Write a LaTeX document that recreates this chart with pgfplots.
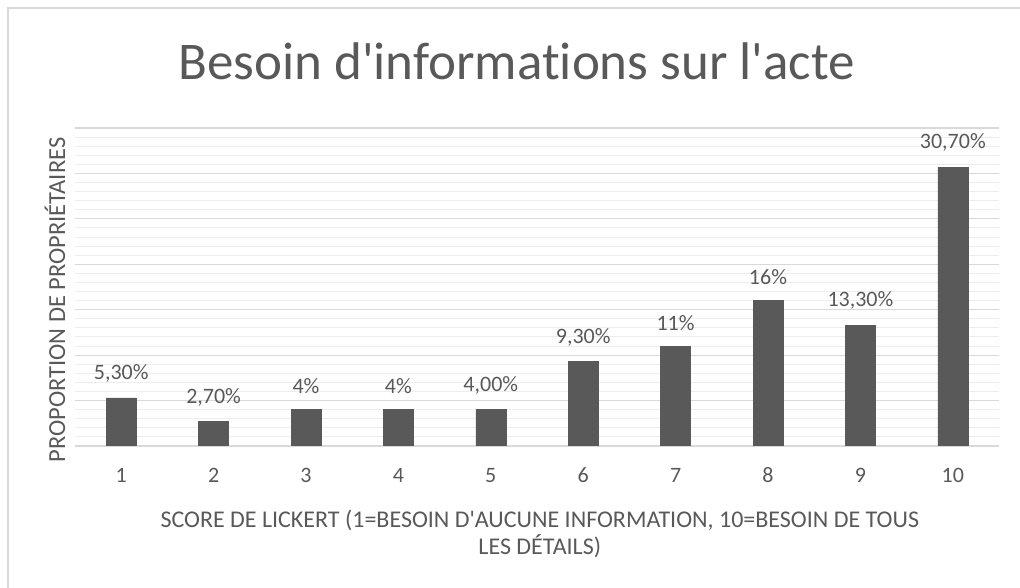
\documentclass[border=0pt]{standalone}
\usepackage{pgfplots}
\pgfplotsset{compat=1.18}
\usepackage{fontspec}
\setmainfont[Ligatures={NoCommon}]{Carlito}
\definecolor{txt}{HTML}{595959}
\definecolor{bar}{HTML}{595959}
\definecolor{majg}{HTML}{D9D9D9}
\definecolor{ming}{HTML}{EDEDED}
\begin{document}
\begin{tikzpicture}[x=1pt,y=1pt]
\draw[color=majg,line width=1.5pt] (8,0) -- (8,580) -- (1020,580);
\begin{axis}[
  at={(75pt,142pt)}, anchor=south west,
  scale only axis, width=924pt, height=318pt,
  xmin=0.5, xmax=10.5, ymin=0, ymax=35,
  ybar, bar width=30pt,
  xtick={1,...,10}, ytick={0,5,...,35}, yticklabels={},
  minor y tick num=4,
  ymajorgrids, yminorgrids,
  major grid style={color=majg,line width=1.2pt},
  minor grid style={color=ming,line width=1pt},
  axis line style={draw=none},
  major tick length=0pt, minor tick length=0pt,
  /pgf/number format/assume math mode=true,
  tick label style={font=\fontsize{22}{26}\selectfont, text=txt},
  xticklabel style={anchor=base, yshift=-37pt},
  title={Besoin d\textquotesingle informations sur l\textquotesingle acte},
  title style={font=\fontsize{53}{60}\selectfont, text=txt, at={(axis description cs:0.478,1.192)}, anchor=center},
  xlabel={SCORE DE LICKERT (1=BESOIN D\textquotesingle AUCUNE INFORMATION, 10=BESOIN DE TOUS\\LES DÉTAILS)},
  xlabel style={font=\fontsize{24}{27}\selectfont, text=txt, align=center, at={(axis description cs:0.503,-0.277)}, anchor=center},
  ylabel={PROPORTION DE PROPRIÉTAIRES},
  ylabel style={font=\fontsize{24.5}{28}\selectfont, text=txt, at={(axis description cs:-0.0216,0.459)}, anchor=center, rotate=0},
  nodes near coords, point meta=explicit symbolic,
  nodes near coords style={font=\fontsize{22}{26}\selectfont, text=txt, yshift=12pt},
]
\addplot[fill=bar, draw=bar] table[meta=lab] {
x y lab
1 5.3 5,30\%
2 2.7 2,70\%
3 4 4\%
4 4 4\%
5 4 4,00\%
6 9.3 9,30\%
7 11 11\%
8 16 16\%
9 13.3 13,30\%
10 30.7 30,70\%
};
\end{axis}
\pgfresetboundingbox
\useasboundingbox (0,0) rectangle (1020,588);
\end{tikzpicture}
\end{document}
